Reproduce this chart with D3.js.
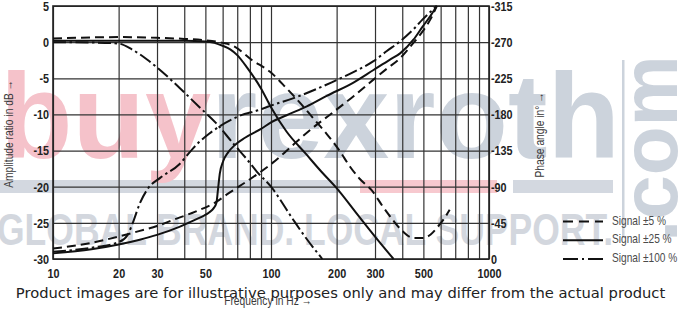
<!DOCTYPE html>
<html><head><meta charset="utf-8">
<script src="https://cdn.jsdelivr.net/npm/d3@7"></script>
<style>html,body{margin:0;padding:0;background:#fff;overflow:hidden} svg{display:block}</style>
</head><body>
<svg id="c" width="681" height="309"></svg>
<script>
// ---- data ----
const freqTicks = [10, 20, 30, 50, 100, 200, 300, 500, 1000];
const gridFreqs = [10, 20, 30, 40, 50, 60, 70, 80, 90, 100, 200, 300, 400, 500, 600, 700, 800, 900, 1000];
const dbTicks = [5, 0, -5, -10, -15, -20, -25, -30];
const phaseTicks = [-315, -270, -225, -180, -135, -90, -45, 0];
const seriesNames = ["Signal \u00b15 %", "Signal \u00b125 %", "Signal \u00b1100 %"];

// amplitude ratio (dB)
const amp5Freq = [10, 15, 20, 30, 40, 50, 60, 67, 82, 99, 118, 135, 155, 180, 206, 230, 255, 290, 325, 362, 403, 450, 500, 540, 580, 620, 660];
const amp5 = [0.5, 0.65, 0.7, 0.6, 0.45, 0.25, -0.1, -0.5, -2.5, -4.1, -6.4, -8.3, -10.4, -12.7, -15, -17.2, -18.9, -20.5, -22.7, -24.6, -26.2, -27.1, -27.1, -26.6, -25.6, -24.5, -23.2];
const amp25Freq = [10, 20, 30, 40, 50, 55, 60, 65, 70, 78, 90, 100, 118, 145, 170, 200, 250, 300, 365];
const amp25 = [0.2, 0.2, 0.2, 0.2, 0.1, -0.1, -0.5, -1.0, -1.8, -3.6, -6.4, -9.0, -12.4, -15.5, -17.9, -20.2, -23.9, -26.9, -30];
const amp100Freq = [10, 15, 20, 23, 27, 30, 38, 47, 56, 67, 78, 86, 100, 126, 140, 172];
const amp100 = [0.0, -0.05, -0.2, -1.0, -2.4, -3.5, -6.3, -9.0, -11.2, -14.0, -16.3, -17.9, -20.0, -24.5, -26.5, -30];

// phase angle (degrees)
const ph5Freq = [10, 15, 20, 25, 30, 35, 45, 56, 64, 72, 87, 102, 115, 131, 155, 187, 240, 294, 340, 391, 450, 495, 540, 576];
const ph5 = [-13, -20, -28, -35, -41, -48, -59, -71, -82, -91, -106, -120, -132, -146, -163, -180, -203, -223, -237, -250, -269, -283, -299, -315];
const ph25Freq = [10, 15, 20, 25, 30, 38, 45, 49.3, 52, 54.5, 56.2, 57.1, 58.2, 60.4, 63.7, 68.3, 76, 90, 100, 118, 146, 180, 240, 294, 350, 391, 450, 495, 540, 576];
const ph25 = [-7, -12, -18, -24, -30, -40, -49, -54, -58, -63, -70, -86, -106, -122, -133, -142, -151, -162, -170, -179, -190, -203, -220, -235, -248, -256, -273, -289, -303, -315];
const ph100Freq = [10, 15, 20, 22, 23.3, 25, 27.3, 31, 38, 43, 47, 52, 58, 70, 89, 100, 126, 190, 240, 294, 340, 391, 450, 495, 540, 576];
const ph100 = [-9, -14, -21, -30, -46, -69, -88, -101, -118, -135, -146, -156, -165, -177, -186, -191, -200, -220, -233, -246, -259, -271, -286, -298, -308, -315];

// ---- drawing ----
const svg = d3.select("#c");
const W = 681, H = 309;
const x = d3.scaleLog().domain([10, 1000]).range([53, 489]);
const yA = d3.scaleLinear().domain([-30, 5]).range([259, 6]);
const yP = d3.scaleLinear().domain([0, -315]).range([259, 6]);

const sans = "'Liberation Sans',Arial,sans-serif";
// emulate a narrow face by condensing measured text
function narrowify(sel, f) {
  sel.each(function () {
    const l = this.getComputedTextLength();
    d3.select(this).attr("textLength", l * f).attr("lengthAdjust", "spacingAndGlyphs");
  });
}

// watermark (behind chart)
const wm = svg.append("g").attr("class", "watermark");
wm.append("rect").attr("x", 0).attr("y", 180).attr("width", 340).attr("height", 13).attr("fill", "#d3d8e0");
wm.append("rect").attr("x", 360).attr("y", 180).attr("width", 137).attr("height", 13).attr("fill", "#f7c9cf");
wm.append("rect").attr("x", 513).attr("y", 180).attr("width", 100).attr("height", 13).attr("fill", "#d3d8e0");
const big = wm.append("text").attr("x", 0).attr("y", 158)
  .attr("font-family", sans).attr("font-weight", "bold")
  .attr("font-size", 120).attr("textLength", 620).attr("lengthAdjust", "spacingAndGlyphs");
big.append("tspan").attr("fill", "#f5c2ca").text("buy");
big.append("tspan").attr("fill", "#ccd3dc").text("rexroth");
wm.append("rect").attr("x", 622).attr("y", 60).attr("width", 2.5).attr("height", 178).attr("fill", "#ccd3dc");
wm.append("text").attr("transform", "translate(677,242) rotate(-90)")
  .attr("font-family", sans).attr("font-weight", "bold")
  .attr("font-size", 80).attr("fill", "#ccd3dc").text(".com");
wm.append("text").attr("x", -3).attr("y", 245)
  .attr("font-family", sans).attr("font-weight", "bold")
  .attr("font-size", 44).attr("fill", "#d3d7de")
  .attr("textLength", 616).attr("lengthAdjust", "spacingAndGlyphs")
  .text("GLOBAL BRAND. LOCAL SUPPORT.");

// grid
const gridCol = "#333";
svg.append("g").attr("transform", "translate(0,259)")
  .call(d3.axisBottom(x).tickValues(gridFreqs).tickSize(-253).tickFormat(""))
  .call(g => g.select(".domain").remove())
  .call(g => g.selectAll("line").attr("stroke", gridCol).attr("stroke-width", 1.2));
svg.append("g").attr("transform", "translate(53,0)")
  .call(d3.axisLeft(yA).tickValues(dbTicks).tickSize(-436).tickFormat(""))
  .call(g => g.select(".domain").remove())
  .call(g => g.selectAll("line").attr("stroke", gridCol).attr("stroke-width", 1.2));
// frame
svg.append("rect").attr("x", x(10)).attr("y", yA(5)).attr("width", x(1000) - x(10)).attr("height", yA(-30) - yA(5))
  .attr("fill", "none").attr("stroke", "#222").attr("stroke-width", 1.6);

// tick labels
const tickStyle = g => {
  g.select(".domain").remove();
  g.selectAll("text").attr("font-family", sans).attr("font-weight", "bold").attr("font-size", 13.5).attr("fill", "#222")
    .call(narrowify, 0.8);
};
svg.append("g").attr("transform", "translate(53,0)")
  .call(d3.axisLeft(yA).tickValues(dbTicks).tickSize(0).tickPadding(4).tickFormat(d => String(d)))
  .call(tickStyle);
svg.append("g").attr("transform", "translate(489,0)")
  .call(d3.axisRight(yP).tickValues(phaseTicks).tickSize(0).tickPadding(2).tickFormat(d => String(d)))
  .call(tickStyle);
svg.append("g").attr("transform", "translate(0,259)")
  .call(d3.axisBottom(x).tickValues(freqTicks).tickSize(0).tickPadding(9).tickFormat(d => String(d)))
  .call(tickStyle);

// axis titles
const titles = svg.append("g").attr("font-family", sans).attr("font-size", 12.5).attr("fill", "#3a3a3a").attr("text-anchor", "middle");
titles.append("text").attr("transform", "translate(13,134) rotate(-90)").text("Amplitude ratio in dB \u2192");
titles.append("text").attr("transform", "translate(544,135) rotate(-90)").text("Phase angle in\u00b0 \u2192");
titles.append("text").attr("x", 268).attr("y", 305).text("Frequency in Hz \u2192");
titles.selectAll("text").call(narrowify, 0.82);

// curves
const dashes = ["9,5", null, "13,3.5,2.5,3.5"];
const lineA = d3.line().x(d => x(d[0])).y(d => yA(d[1])).curve(d3.curveMonotoneX);
const lineP = d3.line().x(d => x(d[0])).y(d => yP(d[1])).curve(d3.curveMonotoneX);
const ampSeries = [d3.zip(amp5Freq, amp5), d3.zip(amp25Freq, amp25), d3.zip(amp100Freq, amp100)];
const phSeries = [d3.zip(ph5Freq, ph5), d3.zip(ph25Freq, ph25), d3.zip(ph100Freq, ph100)];
const cg = svg.append("g").attr("fill", "none").attr("stroke", "#111").attr("stroke-width", 2);
ampSeries.forEach((s, i) => cg.append("path").attr("d", lineA(s)).attr("stroke-dasharray", dashes[i]));
phSeries.forEach((s, i) => cg.append("path").attr("d", lineP(s)).attr("stroke-dasharray", dashes[i]));

// legend
const legDash = ["10,6", null, "15,4,2,4"];
const legY = d3.scalePoint().domain(seriesNames).range([221.5, 259]);
const lg = svg.append("g");
seriesNames.forEach((n, i) => {
  lg.append("line").attr("x1", 563).attr("x2", 603).attr("y1", legY(n)).attr("y2", legY(n))
    .attr("stroke", "#111").attr("stroke-width", 2).attr("stroke-dasharray", legDash[i]);
  lg.append("text").attr("x", 612).attr("y", legY(n) - 1.5).attr("dy", "0.35em")
    .attr("font-family", sans).attr("font-size", 13).attr("fill", "#4a4a4a").text(n);
});
const legTexts = lg.selectAll("text");
const legFactor = 54 / legTexts.node().getComputedTextLength();
legTexts.call(narrowify, legFactor);

// disclaimer overlay
const disc = svg.append("text").attr("x", W / 2).attr("y", 298).attr("text-anchor", "middle")
  .attr("font-family", "'DejaVu Sans',sans-serif").attr("font-size", 14).attr("fill", "#222")
  .text("Product images are for illustrative purposes only and may differ from the actual product");
const len = disc.node().getComputedTextLength();
disc.attr("font-size", 14 * 650 / len);
</script>
</body></html>
